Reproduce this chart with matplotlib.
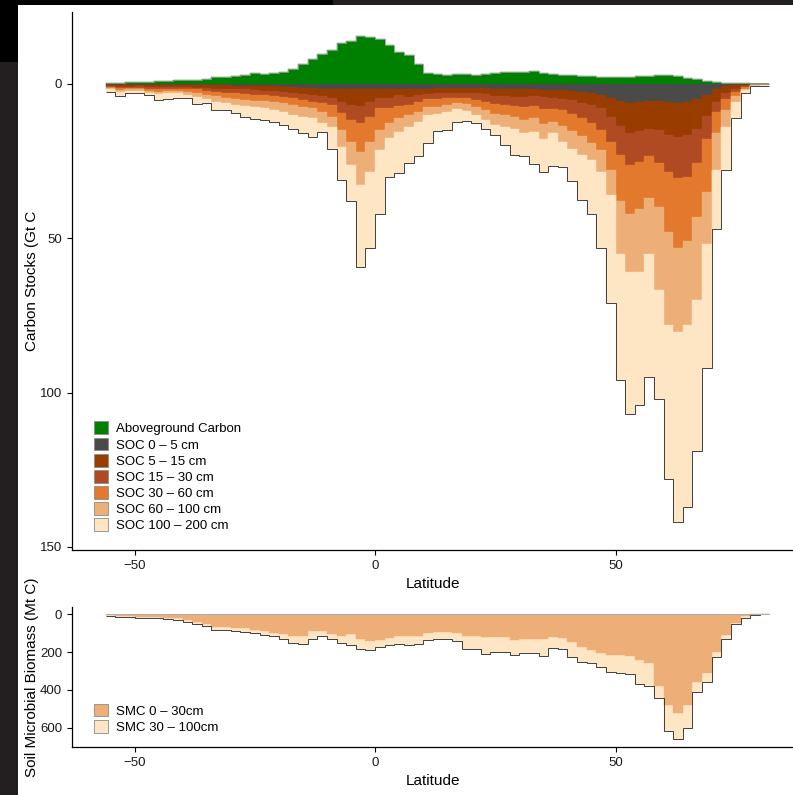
import numpy as np
import matplotlib.pyplot as plt
from matplotlib.patches import Rectangle, Patch

plt.rcParams['font.family'] = ['Liberation Sans', 'DejaVu Sans']

# 2 degree latitude bins (centres)
lat = np.arange(-55, 83, 2)

# carbon stocks, Gt C
above_c = [0.3, 0.4, 0.5, 0.6, 0.6, 0.8, 1.0, 1.3, 1.4, 1.4,
           1.7, 2.1, 2.4, 2.7, 3.0, 3.4, 3.3, 3.4, 3.8, 4.8,
           6.3, 8.0, 9.6, 11.0, 13.2, 14.0, 15.6, 15.3, 14.5, 12.5,
           10.5, 9.5, 6.5, 3.5, 3.2, 3.0, 3.2, 3.3, 3.0, 3.3,
           3.6, 3.9, 4.0, 4.0, 4.1, 3.5, 3.3, 2.8, 2.8, 2.6,
           2.5, 2.4, 2.3, 2.3, 2.3, 2.5, 2.7, 2.8, 2.8, 2.6,
           2.0, 1.5, 1.1, 0.6, 0.3, 0.2, 0.2, 0.1, 0.1]
soc_0_5 = [0.2, 0.2, 0.2, 0.2, 0.2, 0.2, 0.3, 0.3, 0.4, 0.4,
           0.5, 0.5, 0.5, 0.6, 0.6, 0.7, 0.8, 0.8, 0.9, 1.0,
           1.2, 1.4, 1.5, 1.6, 1.7, 1.8, 1.8, 1.8, 1.7, 1.7,
           1.7, 1.6, 1.6, 1.5, 1.4, 1.3, 1.3, 1.3, 1.3, 1.4,
           1.5, 1.6, 1.7, 1.7, 1.8, 1.9, 2.0, 2.1, 2.2, 2.5,
           2.8, 3.6, 4.6, 5.5, 6.1, 5.8, 5.5, 5.6, 5.9, 6.1,
           5.7, 4.8, 3.5, 1.5, 0.7, 0.3, 0.2, 0.1, 0.1]
soc_5_15 = [0.4, 0.7, 0.7, 0.6, 0.8, 0.9, 0.6, 0.6, 0.7, 0.8,
            0.9, 1.0, 1.1, 1.1, 1.2, 1.3, 1.4, 1.6, 1.8, 2.0,
            2.1, 2.2, 2.5, 3.0, 4.0, 5.0, 5.2, 3.9, 2.9, 2.9,
            1.9, 2.5, 2.0, 1.7, 1.6, 1.6, 1.5, 1.5, 1.7, 1.9,
            2.3, 2.3, 2.4, 2.5, 2.2, 2.4, 2.7, 2.7, 2.9, 3.6,
            4.1, 4.3, 6.0, 8.0, 9.9, 9.6, 9.1, 9.4, 10.6, 11.0,
            10.8, 9.7, 7.0, 4.5, 2.3, 1.2, 0.4, 0.2, 0.1]
soc_15_30 = [0.3, 0.4, 0.4, 0.4, 0.6, 0.6, 0.6, 0.7, 0.6, 0.6,
             0.9, 1.1, 1.2, 1.3, 1.5, 1.5, 1.4, 1.5, 1.5, 1.6,
             1.9, 2.1, 2.2, 2.2, 3.8, 4.9, 5.7, 4.9, 3.3, 3.3,
             3.7, 2.7, 2.1, 1.8, 1.9, 1.7, 1.6, 1.7, 2.1, 2.4,
             2.7, 2.9, 3.0, 3.4, 3.3, 3.9, 3.3, 3.7, 4.5, 4.9,
             5.9, 7.0, 8.1, 9.5, 10.2, 9.8, 8.7, 10.5, 12.0, 13.5,
             13.5, 11.0, 7.5, 3.0, 2.0, 1.0, 0.3, 0.1, 0.1]
soc_30_60 = [0.4, 0.6, 0.5, 0.5, 0.7, 0.8, 0.7, 0.6, 0.9, 1.1,
             1.3, 1.4, 1.7, 1.8, 1.9, 2.0, 2.0, 2.1, 2.1, 2.2,
             2.2, 2.2, 2.8, 3.8, 5.4, 7.0, 9.3, 8.1, 7.0, 4.8,
             3.8, 3.2, 3.3, 2.5, 2.5, 2.2, 1.7, 2.1, 2.5, 2.8,
             3.1, 3.2, 3.7, 4.0, 3.8, 4.7, 4.2, 5.1, 5.6, 6.0,
             6.5, 6.5, 9.2, 15.0, 15.8, 15.3, 13.7, 14.5, 19.5, 22.4,
             21.0, 17.5, 17.0, 7.0, 3.5, 1.5, 0.6, 0.1, 0.1]
soc_60_100 = [0.4, 0.6, 0.5, 0.5, 0.7, 0.7, 0.8, 0.8, 1.0, 1.2,
              1.4, 1.7, 1.8, 1.9, 2.1, 2.1, 2.1, 2.4, 2.9, 3.2,
              3.2, 3.2, 3.5, 3.2, 5.4, 7.6, 10.8, 9.8, 6.5, 4.9,
              4.4, 3.8, 3.2, 2.5, 2.2, 2.2, 2.1, 2.1, 2.5, 3.1,
              3.6, 3.8, 3.7, 4.2, 4.4, 4.9, 3.8, 5.1, 5.8, 6.0,
              5.5, 7.1, 8.1, 17.0, 19.0, 20.3, 18.0, 26.8, 30.0, 27.5,
              27.0, 27.0, 17.0, 12.0, 5.5, 2.0, 0.5, 0.1, 0.1]
soc_100_200 = [0.8, 1.3, 0.7, 0.6, 0.6, 2.1, 2.0, 1.5, 1.0, 2.4,
               1.2, 2.8, 2.1, 2.8, 3.5, 3.7, 4.1, 3.9, 4.0, 4.7,
               5.3, 6.1, 3.1, 7.2, 10.7, 11.7, 26.5, 24.5, 20.6, 12.4,
               13.5, 11.7, 11.3, 9.0, 5.7, 5.8, 4.2, 3.3, 2.5, 3.0,
               3.5, 6.0, 8.5, 7.5, 10.5, 10.7, 10.5, 8.3, 10.5, 14.5,
               17.2, 24.5, 35.0, 41.0, 46.0, 43.2, 40.0, 35.2, 50.0, 61.5,
               59.0, 49.0, 40.0, 19.0, 14.0, 5.0, 1.0, 0.1, 0.1]

# soil microbial carbon, Mt C
smc_0_30 = [6, 10, 11, 16, 17, 18, 21, 23, 33, 40,
            52, 66, 67, 74, 76, 82, 90, 100, 104, 115,
            118, 90, 92, 106, 115, 103, 130, 143, 137, 124,
            115, 115, 115, 100, 93, 93, 100, 115, 115, 120,
            122, 122, 135, 133, 133, 130, 122, 125, 145, 172,
            189, 203, 216, 216, 220, 242, 260, 380, 479, 520,
            480, 360, 310, 200, 110, 45, 12, 2, 1.5]
smc_30_100 = [4, 7, 7, 6, 6, 5, 6, 7, 7, 10,
              13, 18, 17, 16, 17, 20, 22, 18, 28, 40,
              40, 42, 26, 24, 39, 62, 55, 47, 38, 41,
              43, 47, 45, 37, 40, 40, 40, 71, 71, 90,
              78, 76, 80, 74, 74, 90, 58, 60, 80, 79,
              71, 77, 89, 96, 98, 126, 118, 60, 135, 140,
              120, 50, 50, 25, 20, 10, 8, 1, 0.5]

soc_labels = ['SOC 0 – 5 cm', 'SOC 5 – 15 cm', 'SOC 15 – 30 cm',
              'SOC 30 – 60 cm', 'SOC 60 – 100 cm', 'SOC 100 – 200 cm']
soc_colors = ['#4a4a4a', '#993c00', '#b04a22', '#e2792c', '#edaf77', '#fee5c4']
green = '#008000'

edges = np.append(lat - 1, lat[-1] + 1)


def style_axis(ax):
    for s in ['top', 'right']:
        ax.spines[s].set_visible(False)
    for s in ['left', 'bottom']:
        ax.spines[s].set_linewidth(0.9)
    ax.tick_params(length=3.5, width=0.8, labelsize=9.5, labelcolor='#1a1a1a')
    ax.set_xlim(-63, 86.9)
    ax.set_xticks([-50, 0, 50])
    ax.set_xlabel('Latitude', fontsize=11)


def key_legend(ax, colors, labels, y0):
    handles = [Patch(facecolor=c, edgecolor='#8c8c8c', lw=0.6) for c in colors]
    ax.legend(handles, labels, loc='lower left', bbox_to_anchor=(0.03, y0),
              frameon=False, fontsize=9.5, handlelength=1.12, handleheight=1.12,
              labelspacing=0.17, handletextpad=0.6, borderpad=0, borderaxespad=0)


fig = plt.figure(figsize=(7.93, 7.95), dpi=100)
ax1 = fig.add_axes([0.0908, 0.3082, 0.9092, 0.6767])
ax2 = fig.add_axes([0.0908, 0.0604, 0.9092, 0.1761])

# --- carbon stocks ---
base = np.zeros(len(lat))
for vals, col in zip([soc_0_5, soc_5_15, soc_15_30, soc_30_60, soc_60_100, soc_100_200], soc_colors):
    top = base + np.array(vals)
    ax1.stairs(top, edges, baseline=base, fill=True, facecolor=col, edgecolor=col, lw=0.3)
    base = top
agc = -np.array(above_c)
ax1.stairs(agc, edges, baseline=0, fill=True, facecolor=green, edgecolor=green, lw=0.3)
ax1.stairs(base, edges, baseline=None, color='#222222', lw=0.6)
ax1.stairs(agc, edges, baseline=None, color='#9a9a9a', lw=0.6)

style_axis(ax1)
ax1.set_ylim(151, -23.3)
ax1.set_yticks([0, 50, 100, 150])
ax1.set_ylabel('Carbon Stocks (Gt C', fontsize=11)
ax1.yaxis.set_label_coords(-0.046, 0.5)
ax1.xaxis.set_label_coords(0.5, -0.05)
key_legend(ax1, [green] + soc_colors, ['Aboveground Carbon'] + soc_labels, 0.033)

# --- soil microbial biomass ---
smc_top = np.array(smc_0_30)
smc_all = smc_top + np.array(smc_30_100)
ax2.stairs(smc_all, edges, baseline=smc_top, fill=True, facecolor='#fee5c4', edgecolor='#fee5c4', lw=0.3)
ax2.stairs(smc_top, edges, baseline=0, fill=True, facecolor='#edaf77', edgecolor='#edaf77', lw=0.3)
ax2.stairs(smc_all, edges, baseline=None, color='#222222', lw=0.6)
ax2.stairs(np.zeros(len(lat)), edges, baseline=None, color='#b0b0b0', lw=0.8)

style_axis(ax2)
ax2.set_ylim(700, -37)
ax2.set_yticks([0, 200, 400, 600])
ax2.set_ylabel('Soil Microbial Biomass (Mt C)', fontsize=11)
ax2.yaxis.set_label_coords(-0.046, 0.5)
ax2.xaxis.set_label_coords(0.5, -0.19)
key_legend(ax2, ['#edaf77', '#fee5c4'], ['SMC 0 – 30cm', 'SMC 30 – 100cm'], 0.095)

# dark frame strips along the top and left edge of the picture
H, W = 795, 793
fig.add_artist(Rectangle((0, 1 - 5 / H), 333 / W, 5 / H, transform=fig.transFigure,
                         facecolor='black', lw=0, zorder=10))
fig.add_artist(Rectangle((333 / W, 1 - 5 / H), 1, 5 / H, transform=fig.transFigure,
                         facecolor='#231f20', lw=0, zorder=10))
fig.add_artist(Rectangle((0, 1 - 62 / H), 18 / W, 62 / H, transform=fig.transFigure,
                         facecolor='black', lw=0, zorder=10))
fig.add_artist(Rectangle((0, 0), 18 / W, 1 - 62 / H, transform=fig.transFigure,
                         facecolor='#231f20', lw=0, zorder=10))

fig.savefig('out.png', dpi=100)
